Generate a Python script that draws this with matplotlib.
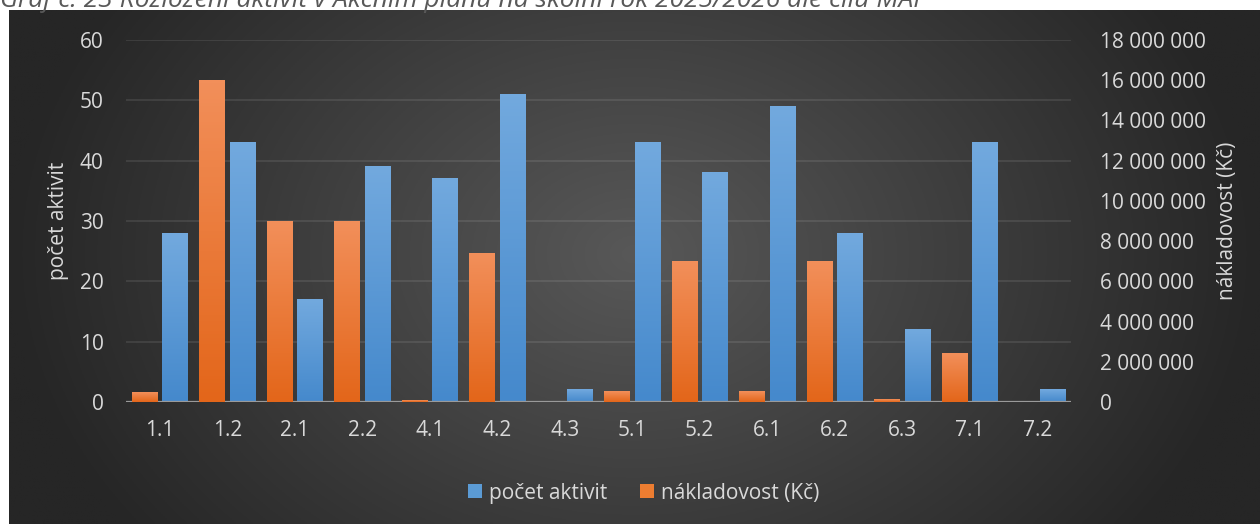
import numpy as np
import matplotlib.pyplot as plt
from matplotlib.patches import Patch
from matplotlib.colors import LinearSegmentedColormap
from matplotlib.ticker import FuncFormatter

plt.rcParams['font.family'] = ['Open Sans', 'DejaVu Sans']

# ---- data ----
categories = ["1.1", "1.2", "2.1", "2.2", "4.1", "4.2", "4.3",
              "5.1", "5.2", "6.1", "6.2", "6.3", "7.1", "7.2"]
pocet_aktivit = [28, 43, 17, 39, 37, 51, 2, 43, 38, 49, 28, 12, 43, 2]
nakladovost = [450000, 16000000, 9000000, 9000000, 50000, 7400000, 0,
               500000, 7000000, 500000, 7000000, 100000, 2400000, 0]

TITLE = "Graf č. 23 Rozložení aktivit v Akčním plánu na školní rok 2025/2026 dle cílů MAP"
TXT = "#d9d9d9"
FS = 15

W, H = 1260, 524
fig = plt.figure(figsize=(W / 100, H / 100), dpi=100, facecolor="white")

# ---- radial background of chart area ----
bg = fig.add_axes([9 / W, 0, 1 - 9 / W, (H - 10) / H], zorder=-5)
gx = np.linspace(-1, 1, 600)
gy = np.linspace(-1, 1, 260)
X, Y = np.meshgrid(gx, gy)
r = np.clip(np.sqrt(X ** 2 + (0.55 * (Y + 0.05)) ** 2), 0, 1)
val = (88 - 50 * r) / 255
bg.imshow(np.dstack([val, val, val]), aspect="auto", extent=[0, 1, 0, 1])
bg.axis("off")

# title is cut by the top edge, as in the source
fig.text(0.0, 1 - 7 / H, TITLE, fontsize=19, style="italic",
         color="#595959", va="baseline", ha="left")

# ---- main axes ----
ax = fig.add_axes([126 / W, 1 - 402 / H, (1071 - 126) / W, (402 - 40) / H])
ax.patch.set_alpha(0)
ax2 = ax.twinx()
ax2.patch.set_alpha(0)

x = np.arange(len(categories))
bw = 0.375
off = 0.228

blue_cmap = LinearSegmentedColormap.from_list("b", ["#4589cc", "#72a9de"])
orange_cmap = LinearSegmentedColormap.from_list("o", ["#e3661a", "#f28f5a"])
grad = np.linspace(0, 1, 100).reshape(-1, 1)[::-1]


def grad_bars(a, xs, vals, cmap):
    bars = a.bar(xs, vals, bw, color="none", zorder=3)
    for b in bars:
        h = b.get_height()
        if h <= 0:
            continue
        a.imshow(grad, cmap=cmap, aspect="auto", zorder=3,
                 extent=[b.get_x(), b.get_x() + b.get_width(), 0, h])


grad_bars(ax, x + off, pocet_aktivit, blue_cmap)
grad_bars(ax2, x - off, nakladovost, orange_cmap)

ax.set_xlim(-0.5, len(categories) - 0.5)
ax.set_ylim(0, 60)
ax2.set_ylim(0, 18000000)
ax.set_yticks(np.arange(0, 61, 10))
ax2.set_yticks(np.arange(0, 18000001, 2000000))
ax2.yaxis.set_major_formatter(FuncFormatter(lambda v, p: f"{int(v):,}".replace(",", " ")))

ax.set_xticks(x)
ax.set_xticklabels(categories)

for a in (ax, ax2):
    for s in a.spines.values():
        s.set_visible(False)
    a.tick_params(length=0, colors=TXT, labelsize=FS)
ax.tick_params(axis="y", pad=16)
ax.tick_params(axis="x", pad=13)
ax2.tick_params(axis="y", pad=21)

for v in range(10, 61, 10):
    ax.axhline(v, color="white", alpha=0.11, lw=1.2, zorder=1)
ax.axhline(0, color="#9a9a9a", lw=1.6, zorder=4)

ax.set_ylabel("počet aktivit", color=TXT, fontsize=FS, labelpad=8)
ax2.set_ylabel("nákladovost (Kč)", color=TXT, fontsize=FS, labelpad=8)

handles = [Patch(facecolor="#5b9bd5", label="počet aktivit"),
           Patch(facecolor="#ed7d31", label="nákladovost (Kč)")]
fig.legend(handles=handles, loc="center", bbox_to_anchor=(0.511, 1 - 493 / H),
           ncol=2, frameon=False, fontsize=FS, labelcolor=TXT,
           handlelength=0.65, handleheight=0.65, handletextpad=0.35,
           columnspacing=1.6)

fig.savefig("out.png", dpi=100, facecolor="white")
